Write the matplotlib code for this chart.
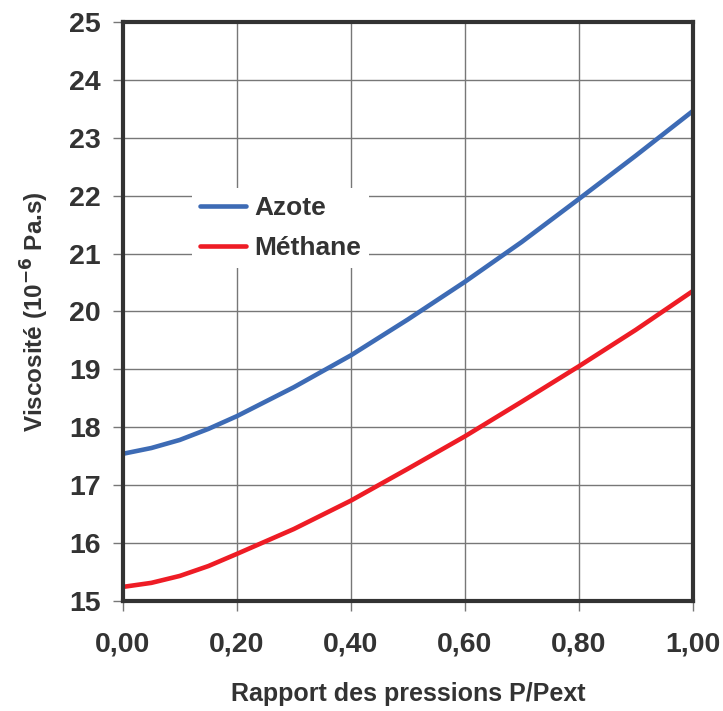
import matplotlib
matplotlib.use("Agg")
import matplotlib.pyplot as plt
from matplotlib.ticker import FuncFormatter

plt.rcParams["font.family"] = ["Liberation Sans", "DejaVu Sans"]
plt.rcParams["font.weight"] = "bold"

ratio = [0.0, 0.05, 0.1, 0.15, 0.2, 0.3, 0.4, 0.5, 0.6, 0.7, 0.8, 0.9, 1.0]
azote = [17.54, 17.64, 17.78, 17.97, 18.19, 18.69, 19.24, 19.86, 20.51, 21.20, 21.94, 22.69, 23.46]
methane = [15.24, 15.31, 15.43, 15.60, 15.81, 16.24, 16.73, 17.28, 17.84, 18.44, 19.05, 19.68, 20.35]

TXT = "#333333"

fig, ax = plt.subplots(figsize=(7.23, 7.11), dpi=100)
fig.subplots_adjust(left=0.170, right=0.958, bottom=0.155, top=0.969)

ax.plot(ratio, azote, color="#3d6bb5", lw=3.3, label="Azote", solid_capstyle="round")
ax.plot(ratio, methane, color="#ee1c25", lw=3.3, label="Méthane", solid_capstyle="round")

ax.set_xlim(0, 1)
ax.set_ylim(15, 25)
ax.set_xticks([0, 0.2, 0.4, 0.6, 0.8, 1.0])
ax.set_yticks(range(15, 26))
ax.xaxis.set_major_formatter(FuncFormatter(lambda v, p: f"{v:.2f}".replace(".", ",")))
ax.grid(True, color="#777777", lw=1)
ax.set_axisbelow(True)

for s in ax.spines.values():
    s.set_linewidth(3)
    s.set_color(TXT)

ax.tick_params(axis="both", direction="out", length=7, width=1, color="#777777",
               labelsize=20.5, labelcolor=TXT)
ax.tick_params(axis="y", pad=9)
ax.tick_params(axis="x", pad=15)

ax.set_xlabel("Rapport des pressions P/Pext", fontsize=18, fontweight="bold", color=TXT, labelpad=18)
ax.set_ylabel("Viscosité (10$^{\\mathbf{-6}}$ Pa.s)", fontsize=17.5, fontweight="bold", color=TXT, labelpad=13)

leg = ax.legend(loc="upper left", bbox_to_anchor=(0.121, 0.713), borderaxespad=0,
                frameon=True, fancybox=False, edgecolor="none", facecolor="white", framealpha=1,
                fontsize=19, handlelength=1.75, handletextpad=0.3, labelspacing=0.62,
                borderpad=0.3)
for t in leg.get_texts():
    t.set_color(TXT)

fig.savefig("out.png", dpi=100)
